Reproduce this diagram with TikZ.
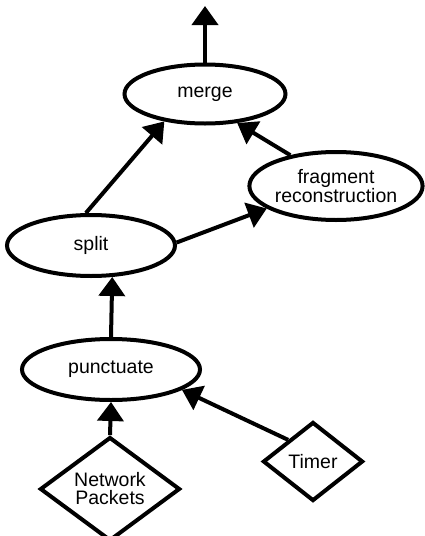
\documentclass[tikz,border=0pt]{standalone}
\usepackage{fontspec}
\setmainfont{Liberation Sans}
\usetikzlibrary{shapes.geometric,arrows.meta}
\begin{document}
\begin{tikzpicture}[x=1pt,y=-1pt,
  every node/.style={font=\fontsize{19.5}{18}\selectfont, align=center, inner sep=0pt},
  proc/.style={ellipse, draw, line width=4pt},
  src/.style={diamond, draw, line width=4pt},
  flow/.style={line width=4pt, -{Triangle[length=19pt,width=26pt]}}]
\useasboundingbox (0,0) rectangle (424,536);
\node[proc, minimum width=161pt, minimum height=59pt] (merge) at (205,94) {merge};
\node[proc, minimum width=158pt, minimum height=68pt] (frag) at (336,186) {fragment\\reconstruction};
\node[proc, minimum width=168pt, minimum height=61pt] (split) at (91,245.5) {split};
\node[proc, minimum width=178pt, minimum height=61pt] (punct) at (111,369.5) {punctuate};
\node[src, minimum width=140pt, minimum height=84pt] (net) at (110,489) {Network\\Packets};
\node[src, minimum width=100pt, minimum height=79pt] (timer) at (313,461.5) {Timer};
\coordinate (out) at (205,6);
\draw[flow] (merge.north) -- (out);
\draw[flow] (split.99) -- (merge.214);
\draw[flow] (frag.146) -- (merge.318);
\draw[flow] (split.2) -- (frag.198);
\draw[flow] (punct.north) -- (split.-56);
\draw[flow] (net.north) -- (punct.south);
\draw[flow] (timer.139) -- (punct.-16);
\end{tikzpicture}
\end{document}
